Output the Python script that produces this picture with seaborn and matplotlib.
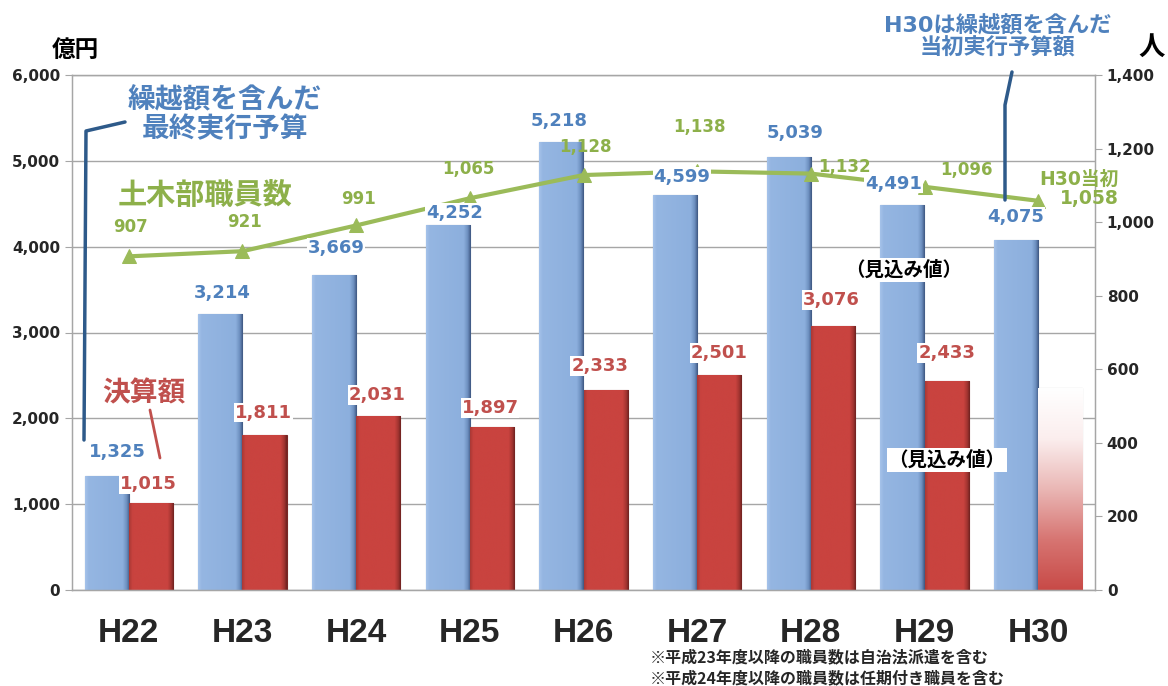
import numpy as np
import pandas as pd
import seaborn as sns
import matplotlib.pyplot as plt
from matplotlib.lines import Line2D
from matplotlib.colors import LinearSegmentedColormap

sns.set_style('white')
plt.rcParams['font.family'] = ['DejaVu Sans', 'Noto Sans CJK JP']

years = ['H22', 'H23', 'H24', 'H25', 'H26', 'H27', 'H28', 'H29', 'H30']
budget = [1325, 3214, 3669, 4252, 5218, 4599, 5039, 4491, 4075]
settled = [1015, 1811, 2031, 1897, 2333, 2501, 3076, 2433, 2350]
settled_labels = ['1,015', '1,811', '2,031', '1,897', '2,333', '2,501', '3,076', '2,433', '']
staff = [907, 921, 991, 1065, 1128, 1138, 1132, 1096, 1058]

blue_txt = '#4f81bd'
red_txt = '#c0504d'
green = '#9bbb59'
green_txt = '#8db04a'
grid_c = '#a6a6a6'
jp = ['Noto Sans CJK JP']

# label offsets in pixels (style only)
blue_off = [(11, 24), (2, 21), (2, 27), (7, 12), (-2, 21), (7, 18), (6, 24), (-9, 21), (0, 23)]
red_off = [(-3, 19), (-1, 22), (-1, 21), (-2, 19), (-6, 24), (0, 22), (-2, 26), (0, 28), (0, 0)]
green_off = [(2, 29), (2, 29), (2, 26), (-1, 29), (2, 28), (2, 44), (34, 7), (42, 17)]

df = pd.DataFrame({
    'year': years * 2,
    'kind': ['budget'] * len(years) + ['settled'] * len(years),
    'value': budget + settled,
})

W, H = 1168, 686
fig = plt.figure(figsize=(W / 100, H / 100), dpi=100)
ax = fig.add_axes([72 / W, 1 - 590 / H, (1095 - 72) / W, (590 - 75) / H])

sns.barplot(data=df, x='year', y='value', hue='kind', order=years,
            hue_order=['budget', 'settled'], palette=['#8fb2e0', '#c9433f'],
            width=0.78, legend=False, ax=ax, zorder=2)


def shade(patch, colors, vertical=False):
    x0, y0 = patch.get_x(), patch.get_y()
    w, h = patch.get_width(), patch.get_height()
    cmap = LinearSegmentedColormap.from_list('g', colors)
    g = np.linspace(0, 1, 256)
    img = g[:, None] if vertical else g[None, :]
    im = ax.imshow(img, cmap=cmap, extent=(x0, x0 + w, y0, y0 + h),
                   aspect='auto', origin='lower', zorder=2.5)
    im.set_clip_path(patch)


blue_bars = ax.containers[0]
red_bars = ax.containers[1]
for p in blue_bars:
    p.set_edgecolor('#55739e')
    p.set_linewidth(0.8)
    shade(p, [(0, '#a6c3ea'), (0.08, '#95b6e2'), (0.84, '#8cafdd'),
              (0.93, '#6d8fbf'), (1, '#3d5680')])
for i, p in enumerate(red_bars):
    p.set_edgecolor('#7a2826')
    p.set_linewidth(0.8)
    if i == len(years) - 1:
        p.set_edgecolor('#9a9a9a')
        shade(p, ['#c84a47', '#d77572', '#eab7b5', '#fbeeee', '#ffffff'], vertical=True)
    else:
        shade(p, [(0, '#a83835'), (0.08, '#c9433f'), (0.86, '#c9433f'),
                  (0.94, '#a33431'), (1, '#6e2220')])

ax.set_xlim(-0.5, len(years) - 0.5)
ax.set_ylim(0, 6000)
ax.set_yticks(np.arange(0, 6001, 1000))
ax.set_yticklabels([f'{v:,}' for v in range(0, 6001, 1000)], fontsize=11, fontweight='bold')
ax.yaxis.grid(True, color=grid_c, lw=1, zorder=0)
ax.set_axisbelow(True)
ax.set_xlabel('')
ax.set_ylabel('')
ax.set_xticks(range(len(years)))
ax.set_xticklabels(years, fontsize=24, fontweight='bold', family='Liberation Sans')
ax.set_xticks(np.arange(-0.5, len(years), 1), minor=True)
ax.tick_params(axis='x', which='major', length=0, pad=20)
ax.tick_params(axis='x', which='minor', length=7, color=grid_c, direction='out')
ax.tick_params(axis='y', length=5, color=grid_c, left=True)
for s in ax.spines.values():
    s.set_color(grid_c)
    s.set_linewidth(1)

ax2 = ax.twinx()
sns.lineplot(x=np.arange(len(years)), y=staff, ax=ax2, color=green, lw=3,
             marker='^', markersize=10, markeredgecolor=green)
ax2.set_ylim(0, 1400)
ax2.set_yticks(np.arange(0, 1401, 200))
ax2.set_yticklabels([f'{v:,}' for v in range(0, 1401, 200)], fontsize=11, fontweight='bold')
ax2.tick_params(axis='y', length=5, color=grid_c, right=True)
for s in ax2.spines.values():
    s.set_color(grid_c)
ax2.set_xlim(-0.5, len(years) - 0.5)

# value labels
white_box = dict(boxstyle='square,pad=0.05', fc='white', ec='none')
for i, p in enumerate(blue_bars):
    cx = p.get_x() + p.get_width() / 2
    ax2.annotate(f'{budget[i]:,}', xy=(cx, p.get_height()), xycoords=ax.transData,
                 xytext=blue_off[i], textcoords='offset pixels', ha='center', va='center',
                 fontsize=13, fontweight='bold', color=blue_txt, bbox=white_box)
for i, p in enumerate(red_bars):
    if not settled_labels[i]:
        continue
    cx = p.get_x() + p.get_width() / 2
    ax2.annotate(settled_labels[i], xy=(cx, p.get_height()), xycoords=ax.transData,
                 xytext=red_off[i], textcoords='offset pixels', ha='center', va='center',
                 fontsize=13, fontweight='bold', color=red_txt, bbox=white_box)
for i in range(len(years) - 1):
    ax2.annotate(f'{staff[i]:,}', xy=(i, staff[i]), xytext=green_off[i],
                 textcoords='offset pixels', ha='center', va='center',
                 fontsize=12, fontweight='bold', color=green_txt)
ax2.annotate(f'H30当初\n{staff[-1]:,}', xy=(len(years) - 1, staff[-1]), xytext=(41, 12),
             textcoords='offset pixels', ha='center', va='center', multialignment='right',
             fontsize=13.5, fontweight='bold', color=green_txt, linespacing=1.0)


def ftext(px, py, s, **kw):
    fig.text(px / W, 1 - py / H, s, ha='center', va='center', **kw)


def fline(pts, **kw):
    xs = [p[0] / W for p in pts]
    ys = [1 - p[1] / H for p in pts]
    fig.add_artist(Line2D(xs, ys, transform=fig.transFigure, **kw))


ftext(75, 50, '億円', fontsize=17, fontweight='bold', family=jp, color='black')
ftext(1152, 47, '人', fontsize=19, fontweight='bold', family=jp, color='black')
ftext(225, 115, '繰越額を含んだ\n最終実行予算', fontsize=20, fontweight='bold',
      family=jp, color=blue_txt, linespacing=1.05)
ftext(205, 195, '土木部職員数', fontsize=21, fontweight='bold', family=jp, color=green_txt)
ftext(144, 393, '決算額', fontsize=20, fontweight='bold', family=jp, color=red_txt)
ftext(998, 37, 'H30は繰越額を含んだ\n当初実行予算額', fontsize=16, fontweight='bold',
      family=['DejaVu Sans', 'Noto Sans CJK JP'], color=blue_txt, linespacing=1.05)
ftext(904, 270, '（見込み値）', fontsize=14, fontweight='bold', family=jp, color='black',
      bbox=dict(boxstyle='square,pad=0.1', fc='white', ec='none'))
ftext(947, 460, '（見込み値）', fontsize=14, fontweight='bold', family=jp, color='black',
      bbox=dict(boxstyle='square,pad=0.1', fc='white', ec='none'))
fig.text(650 / W, 1 - 657 / H, '※平成23年度以降の職員数は自治法派遣を含む', ha='left', va='center',
         fontsize=11.5, fontweight='bold', family=jp)
fig.text(650 / W, 1 - 678 / H, '※平成24年度以降の職員数は任期付き職員を含む', ha='left', va='center',
         fontsize=11.5, fontweight='bold', family=jp)

fline([(125, 122), (86, 131), (84, 440)], color='#2e5a8a', lw=2.5)
fline([(1012, 72), (1005, 105), (1005, 200)], color='#2e5a8a', lw=2.5)
fline([(150, 410), (160, 458)], color=red_txt, lw=2)

fig.savefig('out.png', dpi=100)
